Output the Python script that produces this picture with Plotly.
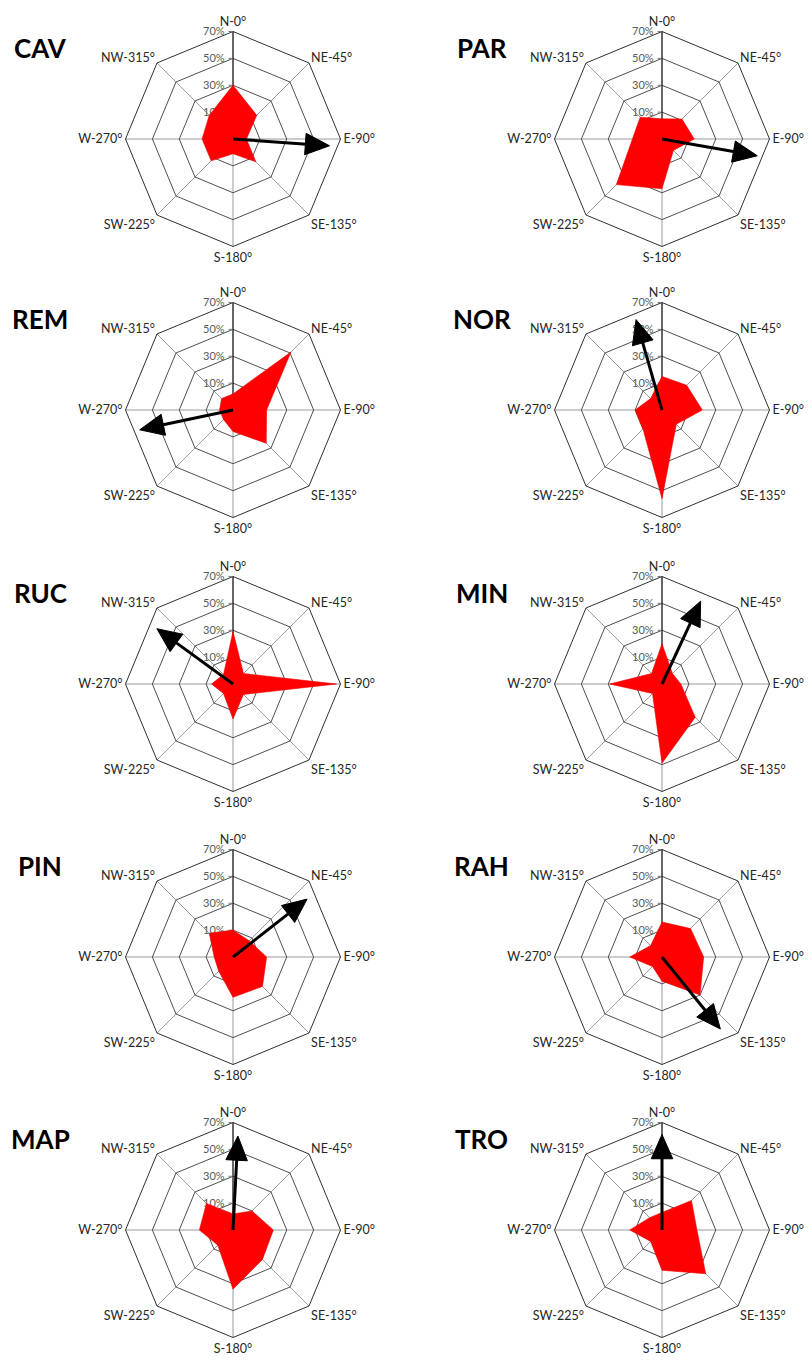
import math
import plotly.graph_objects as go

# Wind sectors and their labels
directions = [0, 45, 90, 135, 180, 225, 270, 315]
direction_labels = ["N-0°", "NE-45°", "E-90°", "SE-135°", "S-180°", "SW-225°", "W-270°", "NW-315°"]
radial_ticks = [10, 30, 50, 70]
radial_tick_labels = ["10%", "30%", "50%", "70%"]

stations = ["CAV", "PAR", "REM", "NOR", "RUC", "MIN", "PIN", "RAH", "MAP", "TRO"]

# Frequency (%) per sector: N, NE, E, SE, S, SW, W, NW
cav = [30, 15, 0, 14, 1, 13, 13, 15]
par = [5, 11, 14, 2, 27, 38, 12, 13]
rem = [2, 51, 15, 25, 6, 0, 0, 2]
nor = [15, 16, 20, 5, 56, 10, 10, 2]
ruc = [29, 1, 67, 1, 16, 0, 6, 0]
min_ = [20, 1, 4, 25, 49, 0, 29, 1]
pin = [10, 7, 15, 21, 20, 5, 4, 15]
rah = [16, 20, 21, 30, 8, 0, 14, 2]
map_ = [2, 10, 20, 21, 34, 6, 15, 18]
tro = [3, 21, 16, 36, 20, 2, 14, 3]
frequencies = [cav, par, rem, nor, ruc, min_, pin, rah, map_, tro]

# Resultant direction (degrees from N) and arrow length (%)
arrow_bearing = [94, 100, 258, 344, 306, 25, 52, 141, 3, 0]
arrow_length = [62, 62, 61, 60, 60, 58, 60, 59, 60, 61]

# ---- layout geometry ----
W, H = 811, 1363
R_PX = 107.5
col_x = [233, 662]
row_y = [139, 410, 684, 957, 1230]
title_x = [40, 482]
R_MIN, R_MAX = -10, 70
head_len = 18.0   # arrowhead length in axis units
head_half = 8.0   # arrowhead half-width in axis units

fig = go.Figure()
layout_polars = {}
annotations = []


def polar_name(n):
    return "polar" if n == 1 else f"polar{n}"


for i, name in enumerate(stations):
    col, row = i % 2, i // 2
    cx, cy = col_x[col], row_y[row]
    domain = dict(x=[(cx - R_PX) / W, (cx + R_PX) / W],
                  y=[1 - (cy + R_PX) / H, 1 - (cy - R_PX) / H])
    grid_sub = polar_name(2 * i + 1)    # octagonal radar (category sectors)
    arrow_sub = polar_name(2 * i + 2)   # overlay in degrees for the arrow

    vals = frequencies[i]
    fig.add_trace(go.Scatterpolar(
        r=vals + [vals[0]], theta=direction_labels + [direction_labels[0]],
        mode="lines", fill="toself", fillcolor="#ff0000",
        line=dict(color="#ee0000", width=0.6),
        subplot=grid_sub, showlegend=False, hoverinfo="skip",
    ))

    # resultant arrow: shaft plus filled head
    b = arrow_bearing[i]
    tip = arrow_length[i]
    dist = tip - R_MIN
    base = dist - head_len
    spread = math.degrees(math.atan2(head_half, base))
    side = math.hypot(base, head_half) + R_MIN
    fig.add_trace(go.Scatterpolar(
        r=[R_MIN, base + R_MIN + 1], theta=[b, b], mode="lines",
        line=dict(color="black", width=3), subplot=arrow_sub,
        showlegend=False, hoverinfo="skip",
    ))
    fig.add_trace(go.Scatterpolar(
        r=[tip, side, side, tip], theta=[b, b - spread, b + spread, b],
        mode="lines", fill="toself", fillcolor="black",
        line=dict(color="black", width=1), subplot=arrow_sub,
        showlegend=False, hoverinfo="skip",
    ))

    layout_polars[grid_sub] = dict(
        domain=domain,
        gridshape="linear",
        bgcolor="white",
        radialaxis=dict(
            range=[R_MIN, R_MAX], tickvals=radial_ticks, ticktext=radial_tick_labels,
            angle=90, tickangle=90, side="counterclockwise",
            showline=True, linecolor="black", linewidth=1,
            gridcolor="#505050", gridwidth=1,
            ticks="outside", ticklen=4, tickcolor="#7f7f7f",
            tickfont=dict(family="Lato", size=11, color="#595959"),
            layer="below traces",
        ),
        angularaxis=dict(
            type="category", categoryorder="array", categoryarray=direction_labels,
            rotation=90, direction="clockwise",
            showline=True, linecolor="#303030", linewidth=1,
            gridcolor="#9a9a9a", gridwidth=1, ticks="",
            tickfont=dict(family="Lato", size=12.5, color="#262626"),
            layer="below traces",
        ),
    )
    layout_polars[arrow_sub] = dict(
        domain=domain,
        bgcolor="rgba(0,0,0,0)",
        radialaxis=dict(range=[R_MIN, R_MAX], visible=False),
        angularaxis=dict(rotation=90, direction="clockwise", visible=False),
    )

    annotations.append(dict(
        text=f"<b>{name}</b>", x=title_x[col] / W, y=1 - (cy - 91) / H,
        xref="paper", yref="paper", xanchor="center", yanchor="middle",
        showarrow=False, font=dict(family="Lato", size=26, color="black"),
    ))

fig.update_layout(
    width=W, height=H, autosize=False,
    margin=dict(l=0, r=0, t=0, b=0),
    paper_bgcolor="white", plot_bgcolor="white",
    annotations=annotations,
    **layout_polars,
)

fig.write_html("out.html")
